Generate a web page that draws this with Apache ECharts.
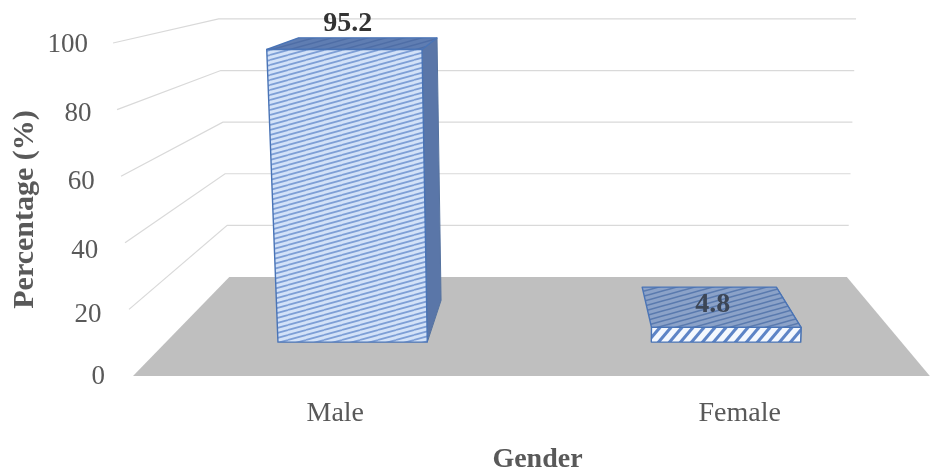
<!DOCTYPE html>
<html>
<head>
<meta charset="utf-8">
<style>html,body{margin:0;padding:0;background:#fff}#chart{width:932px;height:470px}</style>
<script src="https://cdn.jsdelivr.net/npm/echarts@6/dist/echarts.min.js"></script>
</head>
<body>
<div id="chart"></div>
<script>
const categories = ['Male', 'Female'];
const percentages = [95.2, 4.8];
const yTicks = [0, 20, 40, 60, 80, 100];

// Perspective camera for the pseudo-3D scene.
const VANISH_X = 561, VANISH_Y = -64;
const BACK_WALL = 0.775, BAR_FRONT = 0.923, BAR_BACK = 0.828;
const LEAN = 0.00014, LEAN_FADE = 1.38, BASE_Y = 376;
const BAR_WIDTH = 0.40, FLOOR_RIGHT = 0.47;

// Maps a point on the front plane to a given depth (1 = front, smaller = further away).
function project(pt, depth) {
  const lean = 1 + LEAN * (BASE_Y - pt[1]) * (1 - (1 - depth) * LEAN_FADE);
  const x = VANISH_X + (pt[0] - VANISH_X) * lean;
  return [VANISH_X + (x - VANISH_X) * depth, VANISH_Y + (pt[1] - VANISH_Y) * depth];
}

function tile(w, h, bg, paint) {
  const c = document.createElement('canvas');
  c.width = w; c.height = h;
  const g = c.getContext('2d');
  g.fillStyle = bg;
  g.fillRect(0, 0, w, h);
  paint(g);
  return { image: c, repeat: 'repeat' };
}

// Shallow rising hatch, wrapped so the tile repeats cleanly.
function stripes(bg, ink, w, h, lw) {
  return tile(w, h, bg, g => {
    g.strokeStyle = ink;
    g.lineWidth = lw;
    for (let k = -1; k <= 1; k++) {
      g.beginPath();
      g.moveTo(0, h + k * h);
      g.lineTo(w, k * h);
      g.stroke();
    }
  });
}

const frontHatch = stripes('#d3e2f8', '#7e9fd6', 18, 5, 1.8);
const topHatch = stripes('#5f7db2', '#4f6ea6', 18, 5, 1.5);
const thinTopHatch = stripes('#8ba2c8', '#5a7aae', 18, 5, 1.6);
const blockHatch = tile(11, 13, '#f4f8fe', g => {
  g.fillStyle = '#5d84c6';
  [-11, 0].forEach(dx => {
    g.beginPath();
    g.moveTo(dx, 13); g.lineTo(dx + 4, 13); g.lineTo(dx + 15, 0); g.lineTo(dx + 11, 0);
    g.closePath();
    g.fill();
  });
});

const EDGE = '#4a74b6';

function floorEdges(api) {
  const band = api.size([1, 0])[0];
  return [api.coord([0, 0])[0] - band / 2, api.coord([1, 0])[0] + band * FLOOR_RIGHT];
}

function renderFloor(params, api) {
  const y = api.coord([0, 0])[1];
  const [left, right] = floorEdges(api);
  const corners = [
    project([left, y], 1), project([right, y], 1),
    project([right, y], BACK_WALL), project([left, y], BACK_WALL)
  ];
  return { type: 'polygon', shape: { points: corners }, style: { fill: '#bfbfbf' } };
}

function renderGridLine(params, api) {
  const y = api.coord([0, api.value(1)])[1];
  const [left, right] = floorEdges(api);
  return {
    type: 'polyline',
    shape: { points: [project([left, y], 1), project([left, y], BACK_WALL), project([right, y], BACK_WALL)] },
    style: { fill: null, stroke: '#d9d9d9', lineWidth: 1.2 }
  };
}

function renderBar(params, api) {
  const band = api.size([1, 0])[0];
  const cat = api.value(0), val = api.value(1);
  const cx = api.coord([cat, 0])[0];
  const half = band * BAR_WIDTH / 2;
  const y0 = api.coord([cat, 0])[1], y1 = api.coord([cat, val])[1];
  const fl = project([cx - half, y1], BAR_FRONT), fr = project([cx + half, y1], BAR_FRONT);
  const bl = project([cx - half, y1], BAR_BACK), br = project([cx + half, y1], BAR_BACK);
  const gl = project([cx - half, y0], BAR_FRONT), gr = project([cx + half, y0], BAR_FRONT);
  const gb = project([cx + half, y0], BAR_BACK);
  const tall = gl[1] - fl[1] > 40;
  const edge = { stroke: EDGE, lineWidth: 1.4, lineJoin: 'round' };
  const textPos = tall
    ? [(bl[0] + br[0]) / 2 - 20, bl[1] - 14]
    : [(fl[0] + fr[0] + bl[0] + br[0]) / 4 - 5, (fl[1] + bl[1]) / 2 - 2];
  return {
    type: 'group',
    children: [
      { type: 'polygon', shape: { points: [fr, br, gb, gr] }, style: { fill: '#5a76a8', stroke: '#56739f', lineWidth: 1 } },
      { type: 'polygon', shape: { points: [fl, fr, br, bl] }, style: Object.assign({ fill: tall ? topHatch : thinTopHatch }, edge) },
      { type: 'polygon', shape: { points: [fl, fr, gr, gl] }, style: Object.assign({ fill: tall ? frontHatch : blockHatch }, edge) },
      {
        type: 'text', x: textPos[0], y: textPos[1],
        style: {
          text: String(val), fill: tall ? '#333' : '#3c4656', align: 'center', verticalAlign: 'middle',
          fontFamily: 'Liberation Serif', fontSize: 28, fontWeight: 'bold'
        }
      }
    ]
  };
}

// Tick labels drift inward towards the floor, following the side wall,
// and sag a little below their nominal height mid-axis.
const LABEL_SAG = { 0: 1, 20: 6, 40: 8, 60: 6, 80: 4, 100: 2 };
const richLabels = {};
yTicks.forEach(t => {
  richLabels['t' + t] = {
    fontFamily: 'Liberation Serif', fontSize: 27, color: '#595959',
    padding: [LABEL_SAG[t] * 2, t * 0.17, 0, 0]
  };
});

const chart = echarts.init(document.getElementById('chart'), null, { renderer: 'canvas' });
chart.setOption({
  animation: false,
  backgroundColor: '#fff',
  grid: { left: 133, top: 43, width: 809, height: 333, containLabel: false, outerBoundsMode: 'none' },
  xAxis: {
    type: 'category',
    data: categories,
    axisLine: { show: false },
    axisTick: { show: false },
    axisLabel: { margin: 24, color: '#595959', fontFamily: 'Liberation Serif', fontSize: 28 },
    name: 'Gender',
    nameLocation: 'middle',
    nameGap: 70,
    nameTextStyle: { color: '#595959', fontFamily: 'Liberation Serif', fontSize: 28, fontWeight: 'bold' }
  },
  yAxis: {
    type: 'value',
    min: 0,
    max: 100,
    interval: 20,
    axisLine: { show: false },
    axisTick: { show: false },
    splitLine: { show: false },
    axisLabel: { margin: 28, formatter: v => '{t' + v + '|' + v + '}', rich: richLabels },
    name: 'Percentage (%)',
    nameLocation: 'middle',
    nameRotate: 90,
    nameGap: 93,
    nameMoveOverlap: false,
    nameTextStyle: { color: '#595959', fontFamily: 'Liberation Serif', fontSize: 30, fontWeight: 'bold' }
  },
  series: [
    { type: 'custom', coordinateSystem: 'cartesian2d', clip: false, silent: true, z: 1, data: [[0, 0]], renderItem: renderFloor },
    { type: 'custom', coordinateSystem: 'cartesian2d', clip: false, silent: true, z: 2,
      data: yTicks.filter(t => t > 0).map(t => [0, t]), renderItem: renderGridLine },
    { type: 'custom', coordinateSystem: 'cartesian2d', clip: false, silent: true, z: 3,
      data: percentages.map((p, i) => [i, p]), renderItem: renderBar }
  ]
});
</script>
</body>
</html>
